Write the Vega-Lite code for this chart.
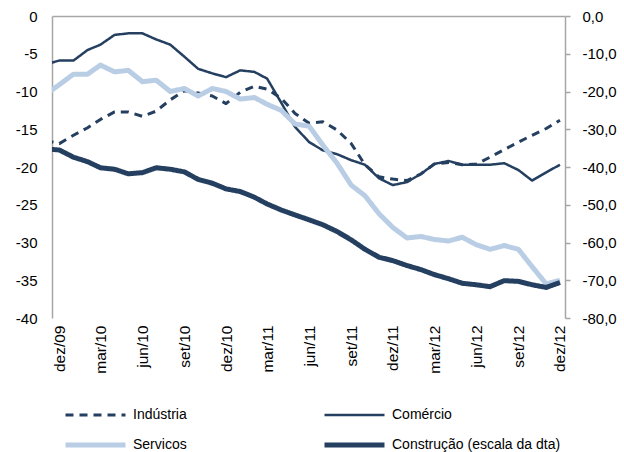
{
  "$schema": "https://vega.github.io/schema/vega-lite/v6.json",
  "width": 513,
  "height": 302,
  "autosize": {"type": "none"},
  "padding": {"left": 52, "top": 16, "right": 59, "bottom": 134},
  "background": "white",
  "config": {"view": {"stroke": null}, "font": "Liberation Sans"},
  "data": {"values": [
    {"d": "2009-11-01", "Indústria": -16.5, "Comércio": -6.4, "Servicos": -10.4, "Construção (escala da dta)": -35.2},
    {"d": "2009-12-01", "Indústria": -16.9, "Comércio": -5.9, "Servicos": -9.1, "Construção (escala da dta)": -35.5},
    {"d": "2010-01-01", "Indústria": -15.8, "Comércio": -5.9, "Servicos": -7.7, "Construção (escala da dta)": -37.4},
    {"d": "2010-02-01", "Indústria": -14.8, "Comércio": -4.5, "Servicos": -7.7, "Construção (escala da dta)": -38.6},
    {"d": "2010-03-01", "Indústria": -13.7, "Comércio": -3.8, "Servicos": -6.5, "Construção (escala da dta)": -40.2},
    {"d": "2010-04-01", "Indústria": -12.7, "Comércio": -2.5, "Servicos": -7.4, "Construção (escala da dta)": -40.6},
    {"d": "2010-05-01", "Indústria": -12.7, "Comércio": -2.3, "Servicos": -7.2, "Construção (escala da dta)": -41.8},
    {"d": "2010-06-01", "Indústria": -13.3, "Comércio": -2.3, "Servicos": -8.7, "Construção (escala da dta)": -41.5},
    {"d": "2010-07-01", "Indústria": -12.6, "Comércio": -3.1, "Servicos": -8.5, "Construção (escala da dta)": -40.2},
    {"d": "2010-08-01", "Indústria": -11.1, "Comércio": -3.8, "Servicos": -10.0, "Construção (escala da dta)": -40.6},
    {"d": "2010-09-01", "Indústria": -9.9, "Comércio": -5.4, "Servicos": -9.6, "Construção (escala da dta)": -41.3},
    {"d": "2010-10-01", "Indústria": -10.2, "Comércio": -7.0, "Servicos": -10.6, "Construção (escala da dta)": -43.3},
    {"d": "2010-11-01", "Indústria": -10.6, "Comércio": -7.6, "Servicos": -9.6, "Construção (escala da dta)": -44.3},
    {"d": "2010-12-01", "Indústria": -11.6, "Comércio": -8.1, "Servicos": -10.0, "Construção (escala da dta)": -45.8},
    {"d": "2011-01-01", "Indústria": -10.1, "Comércio": -7.2, "Servicos": -11.0, "Construção (escala da dta)": -46.5},
    {"d": "2011-02-01", "Indústria": -9.3, "Comércio": -7.4, "Servicos": -10.8, "Construção (escala da dta)": -48.0},
    {"d": "2011-03-01", "Indústria": -9.7, "Comércio": -8.3, "Servicos": -11.7, "Construção (escala da dta)": -49.8},
    {"d": "2011-04-01", "Indústria": -10.9, "Comércio": -11.5, "Servicos": -12.5, "Construção (escala da dta)": -51.4},
    {"d": "2011-05-01", "Indústria": -12.9, "Comércio": -14.7, "Servicos": -14.3, "Construção (escala da dta)": -52.7},
    {"d": "2011-06-01", "Indústria": -14.2, "Comércio": -16.7, "Servicos": -14.6, "Construção (escala da dta)": -54.0},
    {"d": "2011-07-01", "Indústria": -14.0, "Comércio": -17.8, "Servicos": -17.1, "Construção (escala da dta)": -55.3},
    {"d": "2011-08-01", "Indústria": -15.1, "Comércio": -18.3, "Servicos": -19.5, "Construção (escala da dta)": -57.1},
    {"d": "2011-09-01", "Indústria": -16.9, "Comércio": -19.1, "Servicos": -22.4, "Construção (escala da dta)": -59.3},
    {"d": "2011-10-01", "Indústria": -19.7, "Comércio": -19.7, "Servicos": -23.8, "Construção (escala da dta)": -61.8},
    {"d": "2011-11-01", "Indústria": -21.3, "Comércio": -21.5, "Servicos": -26.2, "Construção (escala da dta)": -63.9},
    {"d": "2011-12-01", "Indústria": -21.6, "Comércio": -22.4, "Servicos": -28.0, "Construção (escala da dta)": -64.8},
    {"d": "2012-01-01", "Indústria": -21.8, "Comércio": -22.0, "Servicos": -29.4, "Construção (escala da dta)": -66.1},
    {"d": "2012-02-01", "Indústria": -20.9, "Comércio": -20.9, "Servicos": -29.2, "Construção (escala da dta)": -67.2},
    {"d": "2012-03-01", "Indústria": -19.6, "Comércio": -19.6, "Servicos": -29.6, "Construção (escala da dta)": -68.5},
    {"d": "2012-04-01", "Indústria": -19.4, "Comércio": -19.2, "Servicos": -29.8, "Construção (escala da dta)": -69.6},
    {"d": "2012-05-01", "Indústria": -19.7, "Comércio": -19.7, "Servicos": -29.3, "Construção (escala da dta)": -70.8},
    {"d": "2012-06-01", "Indústria": -19.6, "Comércio": -19.7, "Servicos": -30.3, "Construção (escala da dta)": -71.2},
    {"d": "2012-07-01", "Indústria": -18.7, "Comércio": -19.7, "Servicos": -30.9, "Construção (escala da dta)": -71.7},
    {"d": "2012-08-01", "Indústria": -17.7, "Comércio": -19.5, "Servicos": -30.4, "Construção (escala da dta)": -70.1},
    {"d": "2012-09-01", "Indústria": -16.7, "Comércio": -20.4, "Servicos": -30.9, "Construção (escala da dta)": -70.3},
    {"d": "2012-10-01", "Indústria": -15.8, "Comércio": -21.8, "Servicos": -33.2, "Construção (escala da dta)": -71.2},
    {"d": "2012-11-01", "Indústria": -14.9, "Comércio": -20.7, "Servicos": -35.5, "Construção (escala da dta)": -71.9},
    {"d": "2012-12-01", "Indústria": -13.8, "Comércio": -19.7, "Servicos": -35.0, "Construção (escala da dta)": -70.6}
  ]},
  "transform": [
    {"fold": ["Indústria", "Comércio", "Servicos", "Construção (escala da dta)"], "as": ["serie", "valor"]}
  ],
  "layer": [
    {
      "transform": [{"filter": "datum.serie !== 'Construção (escala da dta)'"}],
      "mark": {"type": "line", "clip": true, "strokeJoin": "round"},
      "encoding": {
        "x": {
          "field": "d", "type": "temporal",
          "scale": {"type": "utc", "domain": [{"year": 2009, "month": 11, "date": 15, "utc": true}, {"year": 2012, "month": 12, "date": 12, "utc": true}]},
          "axis": {
            "orient": "bottom", "title": null, "domain": false, "ticks": false, "grid": false,
            "values": [
              {"year": 2009, "month": 12, "date": 1, "utc": true},
              {"year": 2010, "month": 3, "date": 1, "utc": true},
              {"year": 2010, "month": 6, "date": 1, "utc": true},
              {"year": 2010, "month": 9, "date": 1, "utc": true},
              {"year": 2010, "month": 12, "date": 1, "utc": true},
              {"year": 2011, "month": 3, "date": 1, "utc": true},
              {"year": 2011, "month": 6, "date": 1, "utc": true},
              {"year": 2011, "month": 9, "date": 1, "utc": true},
              {"year": 2011, "month": 12, "date": 1, "utc": true},
              {"year": 2012, "month": 3, "date": 1, "utc": true},
              {"year": 2012, "month": 6, "date": 1, "utc": true},
              {"year": 2012, "month": 9, "date": 1, "utc": true},
              {"year": 2012, "month": 12, "date": 1, "utc": true}
            ],
            "labelExpr": "['jan','fev','mar','abr','mai','jun','jul','ago','set','out','nov','dez'][utcmonth(datum.value)] + '/' + utcFormat(datum.value, '%y')",
            "labelAngle": 270, "labelAlign": "right", "labelBaseline": "middle",
            "labelPadding": 7, "labelFontSize": 15.5, "labelColor": "#000000",
            "labelFont": "Liberation Sans", "labelOverlap": false, "labelFlush": false
          }
        },
        "y": {
          "field": "valor", "type": "quantitative",
          "scale": {"domain": [-40, 0], "nice": false, "zero": false},
          "axis": {
            "orient": "left", "title": null, "grid": false, "ticks": false,
            "domainColor": "#A6A6A6", "domainWidth": 1.5,
            "values": [0, -5, -10, -15, -20, -25, -30, -35, -40],
            "labelExpr": "toString(datum.value)",
            "labelPadding": 15, "labelFontSize": 15, "labelColor": "#000000",
            "labelFont": "Liberation Sans", "labelFlush": false, "labelOverlap": false
          }
        },
        "color": {
          "field": "serie", "type": "nominal",
          "scale": {"domain": ["Indústria", "Comércio", "Servicos", "Construção (escala da dta)"], "range": ["#243F60", "#243F60", "#B9CDE5", "#243F60"]},
          "legend": {
            "title": null, "orient": "none", "legendX": 11, "legendY": 391,
            "direction": "horizontal",
            "columns": 2, "gridAlign": "each", "columnPadding": 135, "rowPadding": 14,
            "symbolType": "stroke", "symbolSize": 3600, "clipHeight": 16,
            "labelFontSize": 14, "labelFont": "Liberation Sans", "labelColor": "#000000",
            "labelOffset": 5, "labelLimit": 300, "padding": 0
          }
        },
        "strokeDash": {
          "field": "serie", "type": "nominal",
          "scale": {"domain": ["Indústria", "Comércio", "Servicos", "Construção (escala da dta)"], "range": [[8, 6], [1, 0], [1, 0], [1, 0]]},
          "legend": {"title": null}
        },
        "strokeWidth": {
          "field": "serie", "type": "ordinal",
          "scale": {"type": "ordinal", "domain": ["Indústria", "Comércio", "Servicos", "Construção (escala da dta)"], "range": [3, 2.5, 5, 5]},
          "legend": {"title": null}
        }
      }
    },
    {
      "transform": [{"filter": "datum.serie === 'Construção (escala da dta)'"}],
      "mark": {"type": "line", "clip": true, "strokeJoin": "round"},
      "encoding": {
        "x": {
          "field": "d", "type": "temporal",
          "scale": {"type": "utc", "domain": [{"year": 2009, "month": 11, "date": 15, "utc": true}, {"year": 2012, "month": 12, "date": 12, "utc": true}]},
          "axis": {"orient": "top", "title": null, "labels": false, "ticks": false, "grid": false, "domain": true, "domainColor": "#A6A6A6", "domainWidth": 1.5}
        },
        "y": {
          "field": "valor", "type": "quantitative",
          "scale": {"domain": [-80, 0], "nice": false, "zero": false},
          "axis": {
            "orient": "right", "title": null, "grid": false, "ticks": true, "tickSize": 5,
            "tickColor": "#A6A6A6", "tickWidth": 1.5, "domainColor": "#A6A6A6", "domainWidth": 1.5,
            "values": [0, -10, -20, -30, -40, -50, -60, -70, -80],
            "labelExpr": "toString(datum.value) + ',0'",
            "labelPadding": 12, "labelFontSize": 15, "labelColor": "#000000",
            "labelFont": "Liberation Sans", "labelFlush": false, "labelOverlap": false
          }
        },
        "color": {
          "field": "serie", "type": "nominal",
          "scale": {"domain": ["Indústria", "Comércio", "Servicos", "Construção (escala da dta)"], "range": ["#243F60", "#243F60", "#B9CDE5", "#243F60"]}
        },
        "strokeDash": {
          "field": "serie", "type": "nominal",
          "scale": {"domain": ["Indústria", "Comércio", "Servicos", "Construção (escala da dta)"], "range": [[8, 6], [1, 0], [1, 0], [1, 0]]}
        },
        "strokeWidth": {
          "field": "serie", "type": "ordinal",
          "scale": {"type": "ordinal", "domain": ["Indústria", "Comércio", "Servicos", "Construção (escala da dta)"], "range": [3, 2.5, 5, 5]}
        }
      }
    }
  ],
  "resolve": {"scale": {"y": "independent"}, "axis": {"x": "independent"}}
}
